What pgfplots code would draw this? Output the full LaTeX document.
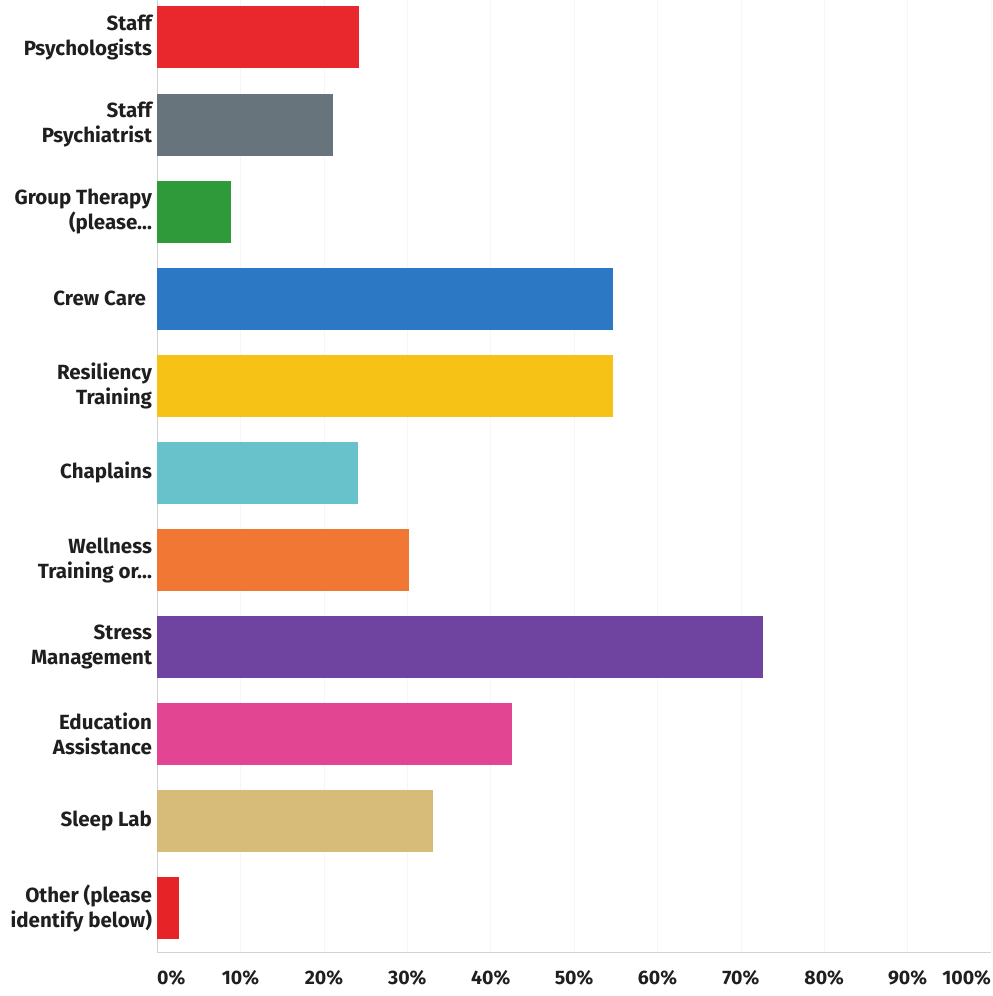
\documentclass[border=0pt]{standalone}
\usepackage{pgfplots}
\pgfplotsset{compat=1.18}
\usepackage{fontspec}
\setmainfont{Fira Sans}
\definecolor{c1}{RGB}{232,40,44}
\definecolor{c2}{RGB}{104,116,124}
\definecolor{c3}{RGB}{46,154,58}
\definecolor{c4}{RGB}{45,120,196}
\definecolor{c5}{RGB}{246,194,22}
\definecolor{c6}{RGB}{104,194,204}
\definecolor{c7}{RGB}{240,120,52}
\definecolor{c8}{RGB}{110,68,160}
\definecolor{c9}{RGB}{226,70,146}
\definecolor{c10}{RGB}{214,188,120}
\definecolor{c11}{RGB}{230,36,40}
\begin{document}
\begin{tikzpicture}
\path[use as bounding box, clip] (-157pt,-44pt) rectangle (835pt,951pt);
\begin{axis}[
  scale only axis,
  width=833pt, height=951pt,
  xmin=0, xmax=100,
  ymin=-0.43, ymax=10.5,
  y dir=reverse,
  xbar, bar width=62pt, bar shift=0pt,
  axis x line*=bottom, axis y line*=left,
  axis line style={draw=gray!35, line width=0.8pt},
  major tick length=0pt,
  xmajorgrids, grid style={draw=gray!7, line width=0.6pt},
  xtick={0,10,20,30,40,50,60,70,80,90,100},
  xticklabels={{\makebox[0pt][l]{0\%}},{10\%},{20\%},{30\%},{40\%},{50\%},{60\%},{70\%},{80\%},{90\%},{\makebox[0pt][r]{100\%}}},
  ytick={0,1,2,3,4,5,6,7,8,9,10},
  yticklabels={{Staff\\Psychologists}, {Staff\\Psychiatrist}, {Group Therapy\\(please.\kern0pt.\kern0pt.}, {Crew Care\hspace{6pt}}, {Resiliency\\Training}, {Chaplains}, {Wellness\\Training or.\kern0pt.\kern0pt.}, {Stress\\Management}, {Education\\Assistance}, {Sleep Lab}, {Other (please\\identify below)}},
  yticklabel style={align=right, inner sep=0pt, xshift=-5pt, font=\fontsize{20.5}{25}\selectfont\bfseries, text=black!88},
  xticklabel style={inner sep=0pt, yshift=-18pt, font=\fontsize{19.5}{25}\selectfont\bfseries, text=black!88},
  every axis plot/.append style={draw=none},
]
\addplot[fill=c1] coordinates {(24.2,0)};
\addplot[fill=c2] coordinates {(21.1,1)};
\addplot[fill=c3] coordinates {(8.9,2)};
\addplot[fill=c4] coordinates {(54.7,3)};
\addplot[fill=c5] coordinates {(54.7,4)};
\addplot[fill=c6] coordinates {(24.1,5)};
\addplot[fill=c7] coordinates {(30.2,6)};
\addplot[fill=c8] coordinates {(72.6,7)};
\addplot[fill=c9] coordinates {(42.5,8)};
\addplot[fill=c10] coordinates {(33.1,9)};
\addplot[fill=c11] coordinates {(2.6,10)};
\end{axis}
\end{tikzpicture}
\end{document}
